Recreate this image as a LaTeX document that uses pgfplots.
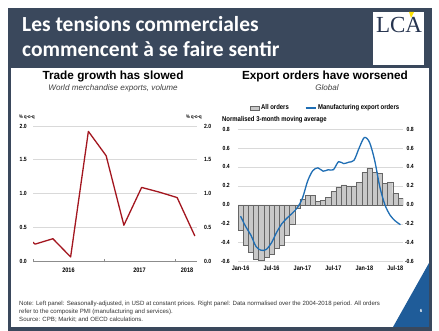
\documentclass[border=0pt]{standalone}
\usepackage{fontspec}
\setmainfont{Liberation Sans}
\newfontfamily\narrow[FakeStretch=0.85]{Liberation Sans}
\newfontfamily\calibri{Carlito}
\newfontfamily\lcaserif{Liberation Serif}
\usepackage{pgfplots}
\pgfplotsset{compat=1.18}
\definecolor{navy}{HTML}{3A485C}
\definecolor{slideblue}{HTML}{1F5C99}
\definecolor{trred}{HTML}{A3161F}
\definecolor{eoblue}{HTML}{1F6EB4}
\definecolor{bargray}{HTML}{C8C8C8}
\definecolor{gridgray}{HTML}{D9D9D9}
\definecolor{lcanavy}{HTML}{26344F}
\pgfplotsset{
  ytl/.style={/pgf/number format/fixed, /pgf/number format/fixed zerofill, /pgf/number format/precision=1, /pgf/number format/assume math mode=true},
}
\begin{document}
\begin{tikzpicture}[x=1pt,y=1pt]
\fill[white] (0pt,0pt) rectangle (439pt,331pt);
% slide frame
\fill[navy] (8pt,0pt) rectangle (432pt,323pt);
\fill[white] (11pt,4pt) rectangle (429pt,263pt);
% logo
\fill[white] (373pt,266pt) rectangle (424pt,319pt);
\node[anchor=base, inner sep=0pt, font=\lcaserif\fontsize{23}{23}\selectfont, text=lcanavy] at (399pt,298pt) {LCA};
\fill[yellow!85!orange] (409pt,319pt) -- (414pt,319pt) -- (411pt,313pt) -- cycle;
% slide title
\node[anchor=base west, inner sep=0pt, font=\calibri\bfseries\fontsize{21.5}{26}\selectfont, text=white] at (22pt,299pt) {Les tensions commerciales};
\node[anchor=base west, inner sep=0pt, font=\calibri\bfseries\fontsize{21.5}{26}\selectfont, text=white] at (22pt,274pt) {commencent à se faire sentir};
% corner triangle
\fill[slideblue] (393pt,4pt) -- (429pt,68pt) -- (429pt,4pt) -- cycle;
\node[anchor=base, inner sep=0pt, font=\bfseries\fontsize{4.5}{5}\selectfont, text=white] at (421pt,18pt) {6};
% footnote
\begin{scope}[every node/.style={anchor=base west, inner sep=0pt, font=\fontsize{6.1}{7}\selectfont, text=black!80}]
\node at (19pt,25.5pt) {Note: Left panel: Seasonally-adjusted, in USD at constant prices. Right panel: Data normalised over the 2004-2018 period. All orders};
\node at (19pt,17.5pt) {refer to the composite PMI (manufacturing and services).};
\node at (19pt,9.5pt) {Source: CPB; Markit; and OECD calculations.};
\end{scope}

% ---------- left panel ----------
\node[anchor=base, inner sep=0pt, font=\bfseries\fontsize{11.8}{12}\selectfont] at (113pt,251pt) {Trade growth has slowed};
\node[anchor=base, inner sep=0pt, font=\itshape\fontsize{8.1}{9}\selectfont, text=black!75] at (113pt,240pt) {World merchandise exports, volume};
\node[anchor=base west, inner sep=0pt, font=\narrow\bfseries\fontsize{5}{6}\selectfont] at (19pt,212pt) {\% q-o-q};
\node[anchor=base west, inner sep=0pt, font=\narrow\bfseries\fontsize{5}{6}\selectfont] at (186pt,212pt) {\% q-o-q};

\begin{axis}[
  at={(33pt,70pt)}, anchor=south west, scale only axis,
  width=164pt, height=135pt,
  xmin=0, xmax=9.24, ymin=0, ymax=2,
  separate axis lines,
  axis x line*=bottom, axis y line*=left,
  x axis line style={draw=black!45, -},
  y axis line style={draw=none},
  ytick={0,0.5,1,1.5,2},
  ymajorgrids, grid style={gridgray, line width=0.5pt},
  ytick style={draw=none},
  yticklabel style={ytl, inner sep=0pt, xshift=-6pt, font=\narrow\bfseries\fontsize{6}{7}\selectfont},
  xtick={2,6,8.68}, xticklabels={2016,2017,2018},
  major x tick style={draw=none},
  minor xtick={0,4,8}, minor tick length=3pt, xtick align=center,
  minor x tick style={draw=black!45},
  xticklabel style={inner sep=0pt, yshift=-5pt, font=\narrow\bfseries\fontsize{6.5}{7}\selectfont},
]
\addplot[trred, line width=1.3pt, line join=round] coordinates {
 (-0.88,0.46) (0.12,0.25) (1.12,0.33) (2.12,0.06) (3.12,1.92) (4.12,1.56)
 (5.12,0.53) (6.12,1.09) (7.12,1.02) (8.12,0.94) (9.12,0.37)};
\end{axis}
\begin{axis}[
  at={(33pt,70pt)}, anchor=south west, scale only axis,
  width=164pt, height=135pt,
  xmin=0, xmax=9.24, ymin=0, ymax=2,
  axis y line*=right, axis x line=none,
  y axis line style={draw=none},
  ytick={0,0.5,1,1.5,2}, ytick style={draw=none},
  yticklabel style={ytl, anchor=west, inner sep=0pt, xshift=7pt, font=\narrow\bfseries\fontsize{6}{7}\selectfont},
]
\addplot[draw=none] coordinates {(0,0)};
\end{axis}

% ---------- right panel ----------
\node[anchor=base, inner sep=0pt, font=\bfseries\fontsize{11.8}{12}\selectfont] at (325pt,251pt) {Export orders have worsened};
\node[anchor=base, inner sep=0pt, font=\itshape\fontsize{8.1}{9}\selectfont, text=black!75] at (327pt,240pt) {Global};
\node[anchor=base west, inner sep=0pt, font=\narrow\bfseries\fontsize{7}{8}\selectfont] at (222pt,209pt) {Normalised 3-month moving average};

\begin{axis}[
  at={(238pt,69.3pt)}, anchor=south west, scale only axis,
  width=165pt, height=132.7pt,
  xmin=0.5, xmax=32.5, ymin=-0.6, ymax=0.8,
  axis line style={draw=none},
  ytick={-0.6,-0.4,-0.2,0,0.2,0.4,0.6,0.8},
  ymajorgrids, grid style={gridgray, line width=0.5pt},
  tick style={draw=none},
  yticklabel style={ytl, inner sep=0pt, xshift=-8pt, font=\narrow\bfseries\fontsize{6}{7}\selectfont},
  xtick={1,7,13,19,25,31},
  xticklabels={Jan-16,Jul-16,Jan-17,Jul-17,Jan-18,Jul-18},
  xticklabel style={inner sep=0pt, yshift=-4pt, font=\narrow\bfseries\fontsize{6.5}{7}\selectfont},
  extra y ticks={0}, extra y tick labels={},
  extra y tick style={grid style={black!80, line width=0.6pt}},
  legend style={at={(0.53,1.158)}, anchor=center, draw=none, fill=none,
    font=\narrow\bfseries\fontsize{7}{8}\selectfont, inner sep=0pt,
    /tikz/every even column/.append style={column sep=14pt}},
  legend columns=2,
]
\addplot[ybar, bar width=1, fill=bargray, draw=black!60, line width=0.35pt,
  legend image code/.code={\draw[fill=bargray, draw=black!60, line width=0.35pt] (0pt,-2pt) rectangle (9pt,2pt);}]
 coordinates {
 (1,-0.27) (2,-0.43) (3,-0.50) (4,-0.57) (5,-0.58) (6,-0.55) (7,-0.52) (8,-0.46)
 (9,-0.43) (10,-0.32) (11,-0.20) (12,-0.04) (13,0.06) (14,0.10) (15,0.10) (16,0.04)
 (17,0.05) (18,0.08) (19,0.14) (20,0.19) (21,0.21) (22,0.20) (23,0.20) (24,0.24)
 (25,0.34) (26,0.39) (27,0.34) (28,0.33) (29,0.23) (30,0.24) (31,0.12) (32,0.07)};
\addlegendentry{All orders}
\addplot[eoblue, line width=1.3pt, smooth, mark=none,
  legend image code/.code={\draw[eoblue, line width=1.3pt] (0pt,0pt) -- (10pt,0pt);}]
 coordinates {
 (1,-0.12) (2,-0.23) (3,-0.32) (4,-0.44) (5,-0.48) (6,-0.47) (7,-0.40) (8,-0.29)
 (9,-0.20) (10,-0.14) (11,-0.09) (12,-0.03) (13,0.07) (14,0.25) (15,0.36) (16,0.39)
 (17,0.355) (18,0.37) (19,0.37) (20,0.455) (21,0.435) (22,0.45) (23,0.47) (24,0.60)
 (25,0.71) (26,0.66) (27,0.47) (28,0.19) (29,0.00) (30,-0.11) (31,-0.17) (32,-0.21)};
\addlegendentry{Manufacturing export orders}
\end{axis}
\begin{axis}[
  at={(238pt,69.3pt)}, anchor=south west, scale only axis,
  width=165pt, height=132.7pt,
  xmin=0.5, xmax=32.5, ymin=-0.6, ymax=0.8,
  axis y line*=right, axis x line=none,
  y axis line style={draw=none},
  ytick={-0.6,-0.4,-0.2,0,0.2,0.4,0.6,0.8}, ytick style={draw=none},
  yticklabel style={ytl, anchor=east, inner sep=0pt, xshift=11pt, font=\narrow\bfseries\fontsize{6}{7}\selectfont},
]
\addplot[draw=none] coordinates {(1,0)};
\end{axis}
\end{tikzpicture}
\end{document}
